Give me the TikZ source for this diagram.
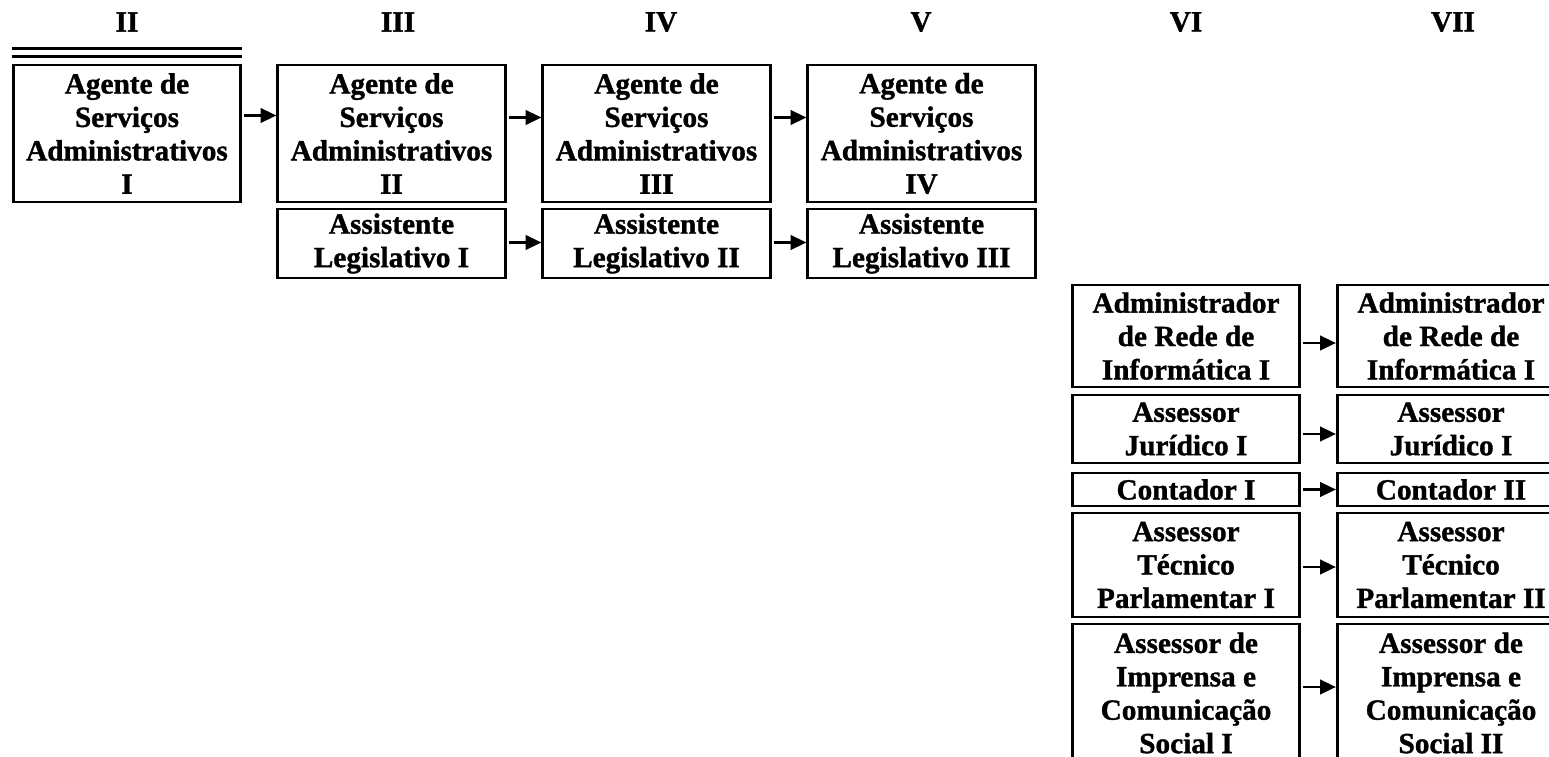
\documentclass[tikz,border=0pt]{standalone}
\usepackage{fontspec}
\setmainfont{Liberation Serif}[BoldFont={Liberation Serif Bold},BoldFeatures={FakeBold=1.2}]
\usetikzlibrary{arrows.meta}

\begin{document}
\begin{tikzpicture}[x=0.41pt,y=-0.41pt,
    cargo/.style={draw,line width=1.1pt,inner sep=0pt,minimum width=93.3pt,
      align=center,font=\fontsize{12}{13.7}\selectfont\bfseries},
    nivel/.style={font=\fontsize{12}{13.7}\selectfont\bfseries},
    seta/.style={line width=0.9pt,-{Triangle[length=6.5pt,width=6pt]}}]
    \useasboundingbox (0,0) rectangle (1549,757);
    \clip (0,0) rectangle (1549,757);
    % niveis
    \node[nivel] (n2) at (127,22) {II};
    \node[nivel] (n3) at (398,22) {III};
    \node[nivel] (n4) at (661,22) {IV};
    \node[nivel] (n5) at (921,22) {V};
    \node[nivel] (n6) at (1186,22) {VI};
    \node[nivel] (n7) at (1453,22) {VII};
    % agentes
    \node[cargo,minimum height=56.2pt] (a1) at (127,133.5) {Agente de\\Serviços\\Administrativos\\I};
    \node[cargo,minimum height=56.2pt] (a2) at (391.5,133.5) {Agente de\\Serviços\\Administrativos\\II};
    \node[cargo,minimum height=56.2pt] (a3) at (656.5,133.5) {Agente de\\Serviços\\Administrativos\\III};
    \node[cargo,minimum height=56.2pt] (a4) at (921.5,133.5) {Agente de\\Serviços\\Administrativos\\IV};
    \draw[line width=1.1pt] ([shift={(0,-15)}]a1.north west) -- ([shift={(0,-15)}]a1.north east);
    \draw[line width=1.1pt] ([shift={(0,-7)}]a1.north west) -- ([shift={(0,-7)}]a1.north east);
    % assistentes
    \node[cargo,minimum height=28.3pt] (l1) at (391.5,243.5) {Assistente\\Legislativo I};
    \node[cargo,minimum height=28.3pt] (l2) at (656.5,243.5) {Assistente\\Legislativo II};
    \node[cargo,minimum height=28.3pt] (l3) at (921.5,243.5) {Assistente\\Legislativo III};
    % nivel VI
    \node[cargo,minimum height=41.8pt] (b1) at (1186,336) {Administrador\\de Rede de\\Informática I};
    \node[cargo,minimum height=27.9pt] (b2) at (1186,429) {Assessor\\Jurídico I};
    \node[cargo,minimum height=13.5pt] (b3) at (1186,489.5) {Contador I};
    \node[cargo,minimum height=42.6pt] (b4) at (1186,565) {Assessor\\Técnico\\Parlamentar I};
    \node[cargo,minimum height=56.6pt] (b5) at (1186,693) {Assessor de\\Imprensa e\\Comunicação\\Social I};
    % nivel VII
    \node[cargo,minimum height=41.8pt] (c1) at (1451,336) {Administrador\\de Rede de\\Informática I};
    \node[cargo,minimum height=27.9pt] (c2) at (1451,429) {Assessor\\Jurídico I};
    \node[cargo,minimum height=13.5pt] (c3) at (1451,489.5) {Contador II};
    \node[cargo,minimum height=42.6pt] (c4) at (1451,565) {Assessor\\Técnico\\Parlamentar II};
    \node[cargo,minimum height=56.6pt] (c5) at (1451,693) {Assessor de\\Imprensa e\\Comunicação\\Social II};
    % setas
    \draw[seta] ([shift={(2,-18)}]a1.east) -- ([shift={(0,-18)}]a2.west);
    \draw[seta] ([shift={(2,-16)}]a2.east) -- ([shift={(0,-16)}]a3.west);
    \draw[seta] ([shift={(2,-16)}]a3.east) -- ([shift={(0,-16)}]a4.west);
    \draw[seta] ([shift={(2,-1)}]l1.east) -- ([shift={(0,-1)}]l2.west);
    \draw[seta] ([shift={(2,-1)}]l2.east) -- ([shift={(0,-1)}]l3.west);
    \draw[seta] ([shift={(2,7)}]b1.east) -- ([shift={(0,7)}]c1.west);
    \draw[seta] ([shift={(2,5)}]b2.east) -- ([shift={(0,5)}]c2.west);
    \draw[seta] ([shift={(2,0)}]b3.east) -- ([shift={(0,0)}]c3.west);
    \draw[seta] ([shift={(2,2)}]b4.east) -- ([shift={(0,2)}]c4.west);
    \draw[seta] ([shift={(2,-6)}]b5.east) -- ([shift={(0,-6)}]c5.west);
\end{tikzpicture}
\end{document}
